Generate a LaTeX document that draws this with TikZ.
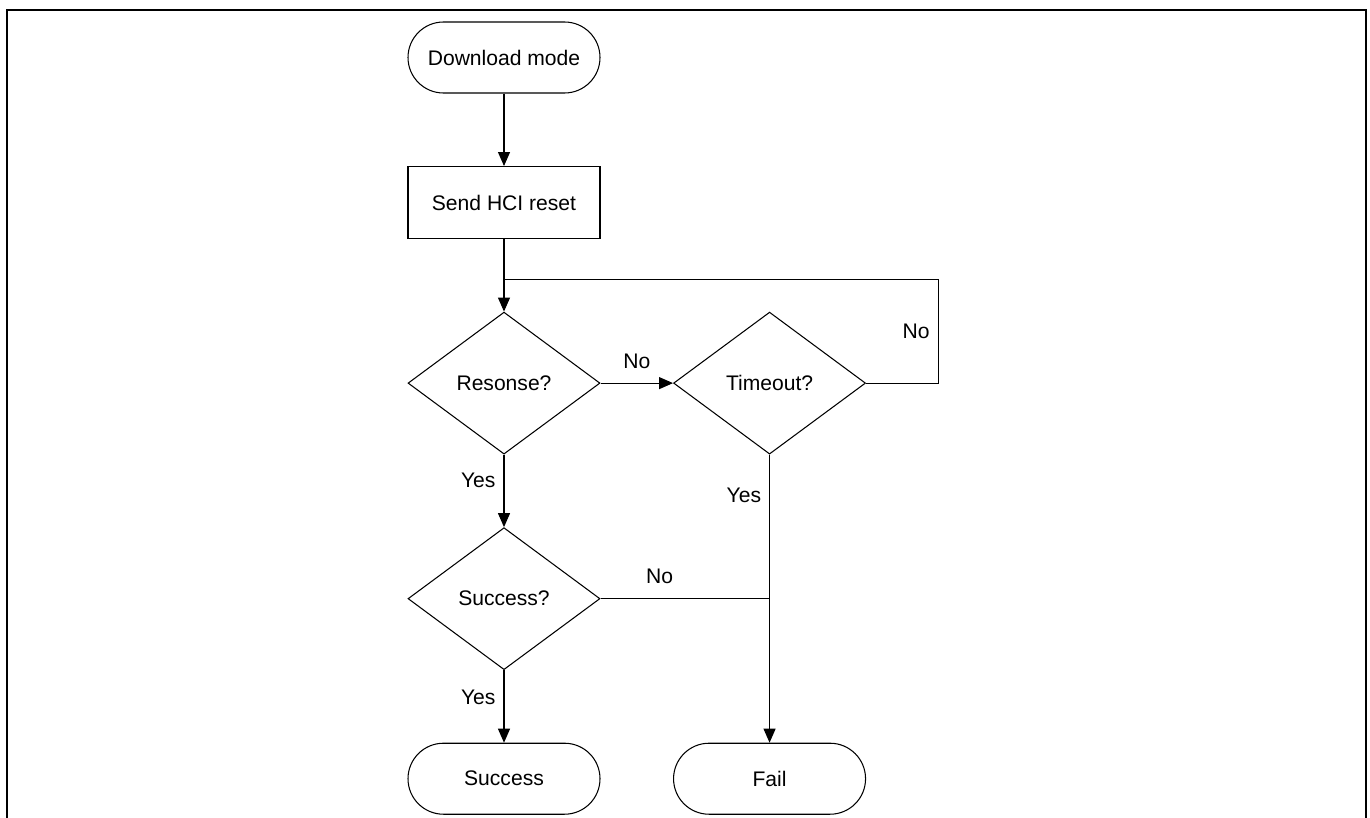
\documentclass[tikz,border=0pt]{standalone}
\usepackage{fontspec}
\setmainfont{Liberation Sans}
\usetikzlibrary{positioning}
\usetikzlibrary{shapes.geometric}
\usetikzlibrary{arrows.meta}

\begin{document}
\begin{tikzpicture}[
    node distance = 1.45cm,
    line width = 0.6pt,
    >={Triangle[length=0.28cm, width=0.24cm]},
    font = \fontsize{12pt}{14pt}\selectfont,
    ]

    \tikzstyle{terminal}=[
    draw = black,
    rectangle,
    rounded corners = 0.71cm,
    minimum width = 3.84cm,
    minimum height = 1.42cm,
    ]
    \tikzstyle{process}=[
    draw = black,
    rectangle,
    minimum width = 3.84cm,
    minimum height = 1.44cm,
    ]
    \tikzstyle{decision}=[
    draw = black,
    diamond,
    inner sep = 0pt,
    minimum width = 3.84cm,
    minimum height = 2.84cm,
    ]
    \tikzstyle{answer}=[inner sep = 0.16cm]

    \useasboundingbox (0,0) rectangle (27.4,-16.34);
    \draw[line width=1.1pt] (0.14,-16.5) -- (0.14,-0.2) -- (27.32,-0.2) -- (27.32,-16.5);

    \node[terminal] (start) at (10.08,-1.15) {Download mode};
    \node[process] (reset) [below=of start] {Send HCI reset};
    \node[decision] (resp) [below=of reset] {Resonse?};
    \node[decision] (tout) [right=of resp] {Timeout?};
    \node[decision] (succq) [below=of resp] {Success?};
    \node[terminal] (succ) [below=of succq] {Success};
    \node[terminal] (fail) [right=of succ] {Fail};

    \coordinate[below=0.8cm of reset.south] (back);
    \coordinate[right=1.44cm of tout.east] (backr);

    \path[->] (start) edge (reset);
    \path[->] (reset) edge (resp);
    \path[->] (resp) edge node[answer, midway, above=0.12cm] {No} (tout);
    \draw (tout.east) -- (backr) -- node[answer, midway, left] {No} (backr |- back) -- (back);
    \path[->] (resp) edge node[answer, pos=0.35, left] {Yes} (succq);
    \path[->] (tout) edge node[answer, pos=0.14, left] {Yes} (fail);
    \draw (succq.east) -- node[answer, pos=0.35, above=0.12cm] {No} (succq.east -| fail.north);
    \path[->] (succq) edge node[answer, pos=0.37, left] {Yes} (succ);
  \end{tikzpicture}
\end{document}
